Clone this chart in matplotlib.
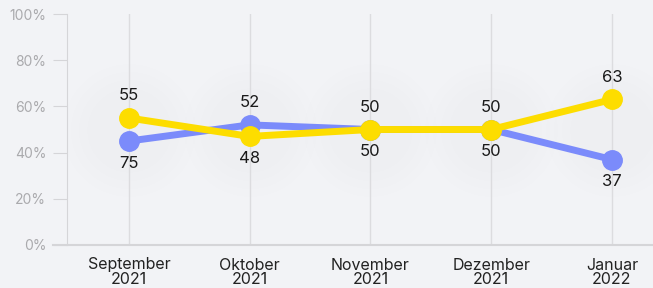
import numpy as np
import matplotlib.pyplot as plt

plt.rcParams['font.family'] = ['Inter', 'DejaVu Sans']

# categories and values
months = ['September\n2021', 'Oktober\n2021', 'November\n2021', 'Dezember\n2021', 'Januar\n2022']
blue = [45, 52, 50, 50, 37]
yellow = [55, 47, 50, 50, 63]
blue_labels = ['75', '52', '50', '50', '37']
yellow_labels = ['55', '48', '50', '50', '63']
blue_above = [False, True, True, True, False]
yellow_above = [True, False, False, False, True]
yticks = [0, 20, 40, 60, 80, 100]

bg = '#f2f3f6'
c_blue = '#7b8bfb'
c_yellow = '#fddd00'

fig = plt.figure(figsize=(6.53, 2.88), dpi=100, facecolor=bg)
ax = fig.add_axes([67 / 653, 43 / 288, 586 / 653, 231 / 288])
ax.set_facecolor(bg)

x = np.arange(len(months))

# soft halo behind each month (stacked faint discs)
for size in [9000, 7000, 5200, 3600]:
    ax.scatter(x, [50] * len(x), s=size, color='#e4e5ea', alpha=0.07, zorder=0, linewidths=0)

for xi in x:
    ax.axvline(xi, color='#dcdcdf', lw=1, zorder=1)

ax.plot(x, blue, color=c_blue, lw=5, marker='o', ms=14, zorder=3, solid_capstyle='round')
ax.plot(x, yellow, color=c_yellow, lw=5, marker='o', ms=14, zorder=4, solid_capstyle='round')

for xi, v, t, up in zip(x, blue, blue_labels, blue_above):
    ax.annotate(t, (xi, v), xytext=(0, 16 if up else -16), textcoords='offset points',
                ha='center', va='center', fontsize=12, color='#1a1a1a', zorder=5)
for xi, v, t, up in zip(x, yellow, yellow_labels, yellow_above):
    ax.annotate(t, (xi, v), xytext=(0, 16 if up else -16), textcoords='offset points',
                ha='center', va='center', fontsize=12, color='#1a1a1a', zorder=5)

ax.set_xlim(-0.512, 4.34)
ax.set_ylim(0, 100)
ax.set_xticks(x)
ax.set_xticklabels(months, fontsize=11.5, color='#222222', linespacing=1.0)
ax.set_yticks(yticks)
ax.set_yticklabels([f'{v}%' for v in yticks], fontsize=10, color='#aaaaad')
ax.tick_params(axis='x', length=0, pad=9)
ax.tick_params(axis='y', length=10, color='#d5d5d8', pad=5)

for s in ['top', 'right', 'bottom']:
    ax.spines[s].set_visible(False)
ax.spines['left'].set_color('#d5d5d8')
# baseline reaching under the tick marks
ax.plot([-14 / 586, 1], [0, 0], transform=ax.transAxes, color='#d5d5d8', lw=1.5, clip_on=False, zorder=2)

fig.savefig('out.png', dpi=100, facecolor=bg)
